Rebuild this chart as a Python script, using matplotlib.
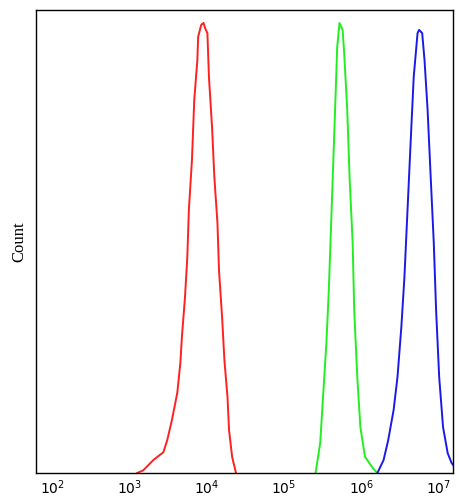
import numpy as np
import matplotlib
matplotlib.use('Agg')
import matplotlib.pyplot as plt

# log10 of fluorescence intensity and count (% of axis height)
red_log = [3.10, 3.18, 3.31, 3.44, 3.49, 3.55, 3.62, 3.66, 3.68, 3.72, 3.75, 3.77, 3.81, 3.84, 3.88, 3.89,
           3.93, 3.96, 3.98, 4.01, 4.03, 4.07, 4.10, 4.14, 4.16, 4.20, 4.23, 4.27, 4.29, 4.33, 4.38]
red_cnt = [0.0, 0.6, 2.8, 4.5, 7.1, 11.4, 17.3, 23.8, 29.4, 38.0, 46.7, 56.8, 67.6, 80.6, 89.2, 94.2,
           96.8, 97.2, 96.1, 95.0, 85.5, 74.7, 63.9, 54.0, 43.8, 33.7, 24.4, 16.4, 9.3, 3.5, 0.0]

green_log = [5.41, 5.47, 5.51, 5.55, 5.58, 5.61, 5.64, 5.67, 5.69, 5.72, 5.76, 5.78, 5.82, 5.85, 5.89,
             5.91, 5.95, 5.99, 6.05, 6.15, 6.21]
green_cnt = [0.0, 6.5, 17.3, 28.1, 38.9, 53.1, 67.6, 82.1, 92.0, 97.2, 95.7, 90.7, 78.4, 63.9, 49.7,
             35.2, 20.7, 9.9, 3.5, 1.1, 0.0]

blue_log = [6.21, 6.29, 6.35, 6.42, 6.47, 6.52, 6.56, 6.60, 6.64, 6.68, 6.73, 6.75, 6.79, 6.82, 6.86,
            6.90, 6.94, 6.97, 7.01, 7.06, 7.12, 7.17, 7.22]
blue_cnt = [0.0, 2.8, 7.1, 13.6, 20.7, 31.5, 42.3, 56.8, 71.3, 85.5, 95.0, 95.7, 95.0, 89.2, 78.4,
            63.9, 49.7, 35.2, 20.7, 9.9, 4.3, 2.2, 1.1]

ticks = [1e2, 1e3, 1e4, 1e5, 1e6, 1e7]
tick_labels = ['$10^{2}$', '$10^{3}$', '$10^{4}$', '$10^{5}$', '$10^{6}$', '$10^{7}$']

fig = plt.figure(figsize=(4.6, 4.99), dpi=100)
ax = fig.add_axes([0.078, 0.052, 0.907, 0.928])

ax.plot(10**np.array(red_log), red_cnt, color='#ff2020', lw=1.4)
ax.plot(10**np.array(green_log), green_cnt, color='#22ee22', lw=1.4)
ax.plot(10**np.array(blue_log), blue_cnt, color='#1a1ae6', lw=1.4)

ax.set_xscale('log')
ax.set_xlim(10**1.79, 10**7.19)
ax.set_ylim(0, 100)
ax.set_xticks(ticks)
ax.set_xticklabels(tick_labels, fontsize=10)
ax.minorticks_off()
ax.tick_params(axis='x', length=0, pad=4)
ax.set_yticks([])
ax.set_ylabel('Count', family='Liberation Serif', fontsize=12, labelpad=6)
for s in ax.spines.values():
    s.set_linewidth(1.0)

fig.savefig('out.png', dpi=100)
